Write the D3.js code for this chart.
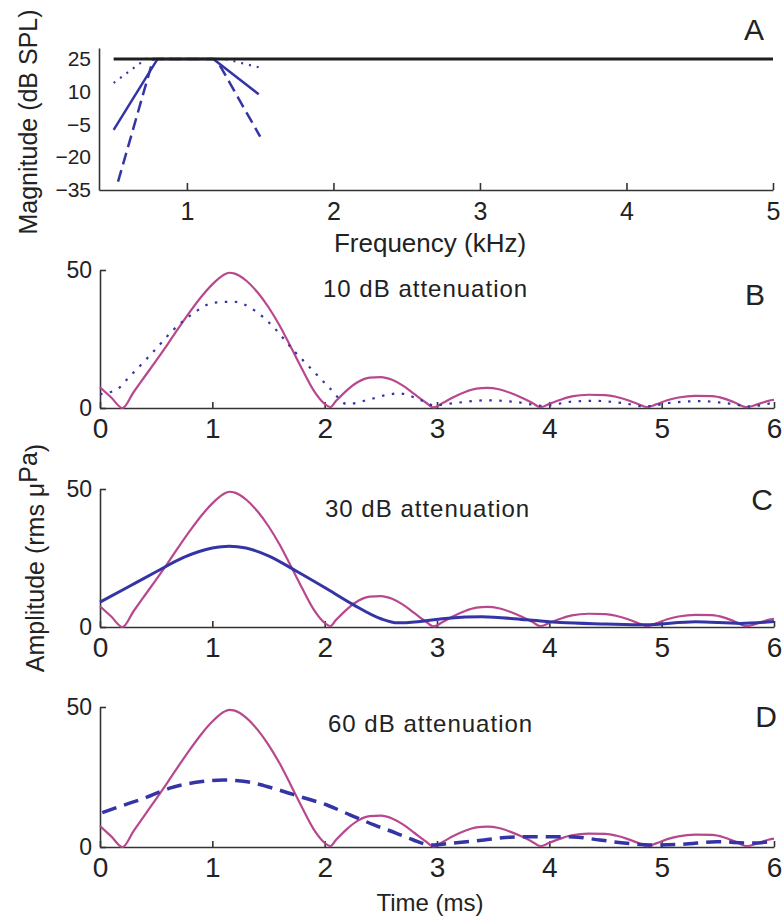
<!DOCTYPE html>
<html>
<head>
<meta charset="utf-8">
<script src="https://cdn.jsdelivr.net/npm/d3@7/dist/d3.min.js"></script>
<style>
body { margin: 0; background: #fff; }
text { font-family: "Liberation Sans", Arial, sans-serif; fill: #222; }
</style>
</head>
<body>
<script>
// ---- data ----
var freqTicks = [1, 2, 3, 4, 5] ;
var magTicks = [25, 10, -5, -20, -35] ;
var timeTicks = [0, 1, 2, 3, 4, 5, 6] ;
var ampTicks = [0, 50] ;

// panel A : filter magnitude (kHz, dB SPL)
var flatResponse = [[0.5, 25], [5, 25]] ;
var filter10 = [[0.5, 14], [0.72, 25], [1.26, 25], [1.5, 21]] ;
var filter30 = [[0.5, -7.5], [0.8, 25], [1.18, 25], [1.49, 8.8]] ;
var filter60 = [[0.53, -31.2], [0.77, 25], [1.2, 25], [1.5, -10.6]] ;

// panels B-D : amplitude envelope (ms, rms uPa)
var unfiltered = [[0,7.5],[0.1,3.8],[0.2,0],[0.3,5.8],[0.4,11.5],[0.5,17.2],[0.6,23],[0.7,29],[0.8,34.8],[0.9,40.2],
    [1.0,44.8],[1.1,48.2],[1.15,49],[1.2,48.7],[1.3,46.2],[1.4,42],[1.5,36.5],[1.6,29.8],[1.7,22],[1.8,14],[1.9,6.5],
    [2.0,1.5],[2.05,0.3],[2.1,2.5],[2.2,6.5],[2.3,9.5],[2.4,11],[2.5,11.2],[2.6,10.2],[2.7,8],[2.8,5],[2.9,2],[2.97,0.2],
    [3.05,1.8],[3.15,4],[3.25,5.8],[3.35,7],[3.45,7.3],[3.55,6.8],[3.65,5.5],[3.75,3.8],[3.85,1.8],[3.92,0.3],
    [4.0,1.5],[4.1,3],[4.2,4.2],[4.35,4.8],[4.5,4.7],[4.6,4],[4.7,2.8],[4.8,1.3],[4.87,0.3],
    [4.95,1.3],[5.05,2.8],[5.15,3.8],[5.3,4.4],[5.45,4.3],[5.55,3.5],[5.65,2],[5.76,0.3],[5.85,1.3],[5.95,2.6],[6.0,3]] ;
var filtered10 = [[0,5],[0.16,7],[0.25,10.8],[0.42,18],[0.5,21.5],[0.65,28.2],[0.83,34.3],[1.02,38.2],[1.19,38.5],
    [1.37,35.5],[1.54,29.5],[1.72,21],[1.89,13.8],[2.05,7],[2.2,1.4],[2.38,2.9],[2.55,4.7],[2.66,5.3],[2.85,3],[2.97,1],
    [3.2,2],[3.45,2.8],[3.7,2.2],[3.95,0.8],[4.2,2.3],[4.4,2.6],[4.65,1.8],[4.85,0.6],[5.1,2],[5.35,2.5],[5.6,1.6],[5.78,0.6],[6,2]] ;
var filtered30 = [[0,9],[0.25,14.5],[0.5,20],[0.75,25.3],[1.0,28.6],[1.15,29.3],[1.3,28.6],[1.5,25.8],[1.75,20.2],
    [2.0,14.3],[2.25,8.2],[2.5,3],[2.65,1.5],[2.85,2],[3.1,3.2],[3.4,3.7],[3.8,2.6],[4.1,1.6],[4.5,1.1],[4.85,0.8],
    [5.3,1.9],[5.7,1.3],[6,2]] ;
var filtered60 = [[0.02,12.3],[0.2,14.8],[0.4,17.5],[0.62,21],[0.89,23.3],[1.1,23.9],[1.31,23.3],[1.54,21],[1.78,18],
    [2.02,15],[2.23,11.4],[2.44,7.9],[2.64,4.9],[2.79,2.5],[2.95,0.7],[3.12,1.3],[3.42,2.5],[3.65,3.5],[3.92,3.7],
    [4.21,3.6],[4.45,2.5],[4.69,1.3],[4.9,0.7],[5.19,1],[5.49,1.9],[5.79,1.4],[6,2]] ;

var blue = "#3434a6" ;
var pink = "#b8488e" ;

var width = 783, height = 919 ;

var svg = d3.select("body").append("svg")
    .attr("width", width)
    .attr("height", height) ;

function style_axis(g, fontSize)
{
    g.select(".domain").attr("stroke", "#333").attr("stroke-width", 1.6) ;
    g.selectAll(".tick line").attr("stroke", "#333").attr("stroke-width", 1.6) ;
    g.selectAll(".tick text")
	.attr("font-family", "Liberation Sans, Arial, sans-serif")
	.attr("font-size", fontSize)
	.attr("fill", "#222") ;
}

function draw_frequency_panel()
{
    var x = d3.scaleLinear().domain([0.4, 5]).range([99, 773]) ;
    var y = d3.scaleLinear().domain([-35, 30]).range([190, 48]) ;

    var gx = svg.append("g")
	.attr("transform", "translate(0," + y(-35) + ")")
	.call(d3.axisBottom(x).tickValues(freqTicks).tickFormat(d3.format("d"))
	      .tickSize(-7).tickSizeOuter(0).tickPadding(12)) ;
    style_axis(gx, 25) ;

    var gy = svg.append("g")
	.attr("transform", "translate(" + x(0.4) + ",0)")
	.call(d3.axisLeft(y).tickValues(magTicks).tickFormat(d3.format("d"))
	      .tickSize(0).tickSizeOuter(0).tickPadding(8)) ;
    style_axis(gy, 21) ;

    var line = d3.line().x(function(d) { return x(d[0]) ; }).y(function(d) { return y(d[1]) ; }) ;

    svg.append("path").datum(filter10)
	.attr("d", line).attr("fill", "none")
	.attr("stroke", blue).attr("stroke-width", 2.2)
	.attr("stroke-dasharray", "2,6") ;
    svg.append("path").datum(filter30)
	.attr("d", line).attr("fill", "none")
	.attr("stroke", blue).attr("stroke-width", 2.5) ;
    svg.append("path").datum(filter60)
	.attr("d", line).attr("fill", "none")
	.attr("stroke", blue).attr("stroke-width", 2.5)
	.attr("stroke-dasharray", "12,6") ;
    svg.append("path").datum(flatResponse)
	.attr("d", line).attr("fill", "none")
	.attr("stroke", "#1e1e1e").attr("stroke-width", 3) ;

    svg.append("text")
	.attr("x", 430).attr("y", 252)
	.attr("font-size", "26px")
	.attr("text-anchor", "middle")
	.text("Frequency (kHz)") ;

    svg.append("text")
	.attr("transform", "translate(37,122) rotate(-90)")
	.attr("font-size", "25px")
	.attr("text-anchor", "middle")
	.text("Magnitude (dB SPL)") ;

    svg.append("text")
	.attr("x", 754).attr("y", 40)
	.attr("font-size", "30px")
	.attr("text-anchor", "middle")
	.text("A") ;
}

function draw_time_panel(top, bottom, filtered, dash, widthLine, caption, captionX, captionY, letter, letterX, letterY)
{
    var x = d3.scaleLinear().domain([0, 6]).range([100, 774]) ;
    var y = d3.scaleLinear().domain([0, 50]).range([bottom, top]) ;

    var gx = svg.append("g")
	.attr("transform", "translate(0," + bottom + ")")
	.call(d3.axisBottom(x).tickValues(timeTicks).tickFormat(d3.format("d"))
	      .tickSize(-6).tickSizeOuter(0).tickPadding(10)) ;
    style_axis(gx, 28) ;

    var gy = svg.append("g")
	.attr("transform", "translate(" + x(0) + ",0)")
	.call(d3.axisLeft(y).tickValues(ampTicks).tickFormat(d3.format("d"))
	      .tickSize(-6).tickSizeOuter(0).tickPadding(8)) ;
    style_axis(gy, 23) ;

    var line = d3.line()
	.x(function(d) { return x(d[0]) ; })
	.y(function(d) { return y(d[1]) ; })
	.curve(d3.curveMonotoneX) ;

    svg.append("path").datum(unfiltered)
	.attr("d", line).attr("fill", "none")
	.attr("stroke", pink).attr("stroke-width", 2.2) ;

    var p = svg.append("path").datum(filtered)
	.attr("d", line).attr("fill", "none")
	.attr("stroke", blue).attr("stroke-width", widthLine) ;
    if(dash != null)
	p.attr("stroke-dasharray", dash) ;

    svg.append("text")
	.attr("x", captionX).attr("y", captionY)
	.attr("font-size", "24px")
	.attr("letter-spacing", "1px")
	.text(caption) ;

    svg.append("text")
	.attr("x", letterX).attr("y", letterY)
	.attr("font-size", "30px")
	.attr("text-anchor", "middle")
	.text(letter) ;
}

draw_frequency_panel() ;
draw_time_panel(270, 408, filtered10, "2.5,7.5", 2.2, "10 dB attenuation", 323, 297, "B", 755, 305) ;
draw_time_panel(489, 627, filtered30, null, 3, "30 dB attenuation", 325, 517, "C", 762, 510) ;
draw_time_panel(707, 847, filtered60, "15,8", 3.5, "60 dB attenuation", 328, 732, "D", 766, 727) ;

svg.append("text")
    .attr("x", 430).attr("y", 911)
    .attr("font-size", "24px")
    .attr("text-anchor", "middle")
    .text("Time (ms)") ;

//y label shared by B-D, "Pa" sits raised after the mu
var amp = svg.append("text")
    .attr("transform", "translate(44,558) rotate(-90)")
    .attr("font-size", "25px")
    .attr("text-anchor", "middle") ;
amp.append("tspan").text("Amplitude (rms \u03bc") ;
amp.append("tspan").attr("dy", -7).text("Pa") ;
amp.append("tspan").attr("dy", 7).text(")") ;
</script>
</body>
</html>
